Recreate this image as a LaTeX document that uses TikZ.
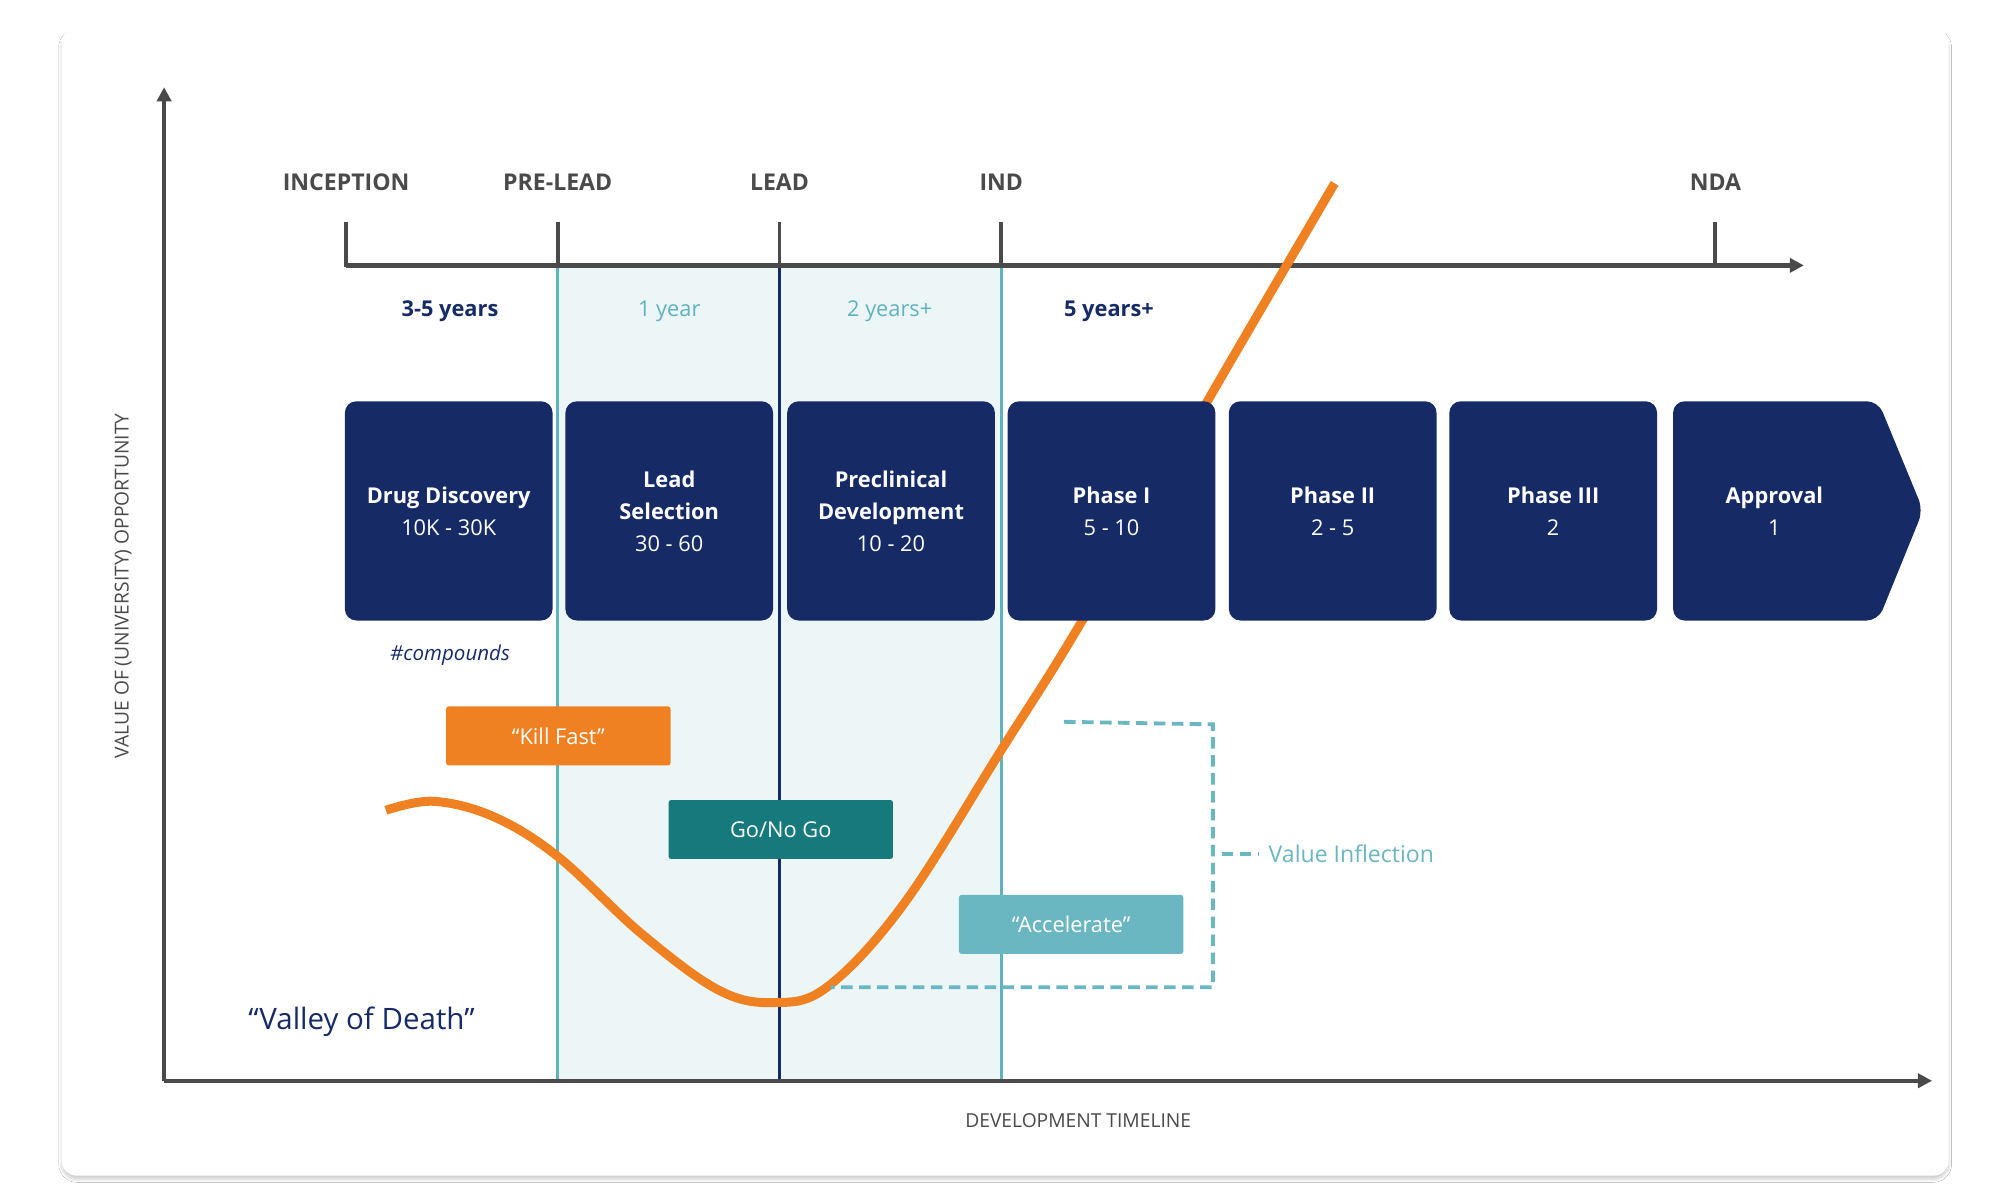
\documentclass[tikz,border=0pt]{standalone}
\usepackage{fontspec}
\setmainfont{Open Sans}
\usetikzlibrary{arrows.meta,shadows.blur}
\definecolor{navy}{HTML}{162A66}
\definecolor{axg}{HTML}{4A4A4A}
\definecolor{tealL}{HTML}{5FB3BF}
\definecolor{band}{HTML}{ECF6F6}
\definecolor{org}{HTML}{F08122}
\definecolor{tealD}{HTML}{167A7C}
\definecolor{acc}{HTML}{6AB7C2}
\begin{document}
\begin{tikzpicture}[x=1pt,y=-1pt,
  box/.style={fill=navy,rounded corners=9pt,text=white,align=center,font=\fontsize{17}{25}\selectfont,inner sep=0},
  tick/.style={draw=axg,line width=3pt},
  axis/.style={draw=axg,line width=3.5pt,-{Triangle[length=11pt,width=11pt]}},
  mile/.style={text=axg,font=\fontsize{18}{20}\selectfont\bfseries},
  tag/.style={minimum width=175pt,minimum height=46pt,rounded corners=2pt,text=white,font=\fontsize{17}{20}\selectfont,inner sep=0}]
\useasboundingbox (0,0) rectangle (1560,936);
\fill[white] (0,0) rectangle (1560,936);
\fill[white,rounded corners=12pt,blur shadow={shadow blur steps=10,shadow xshift=0pt,shadow yshift=-3pt,shadow opacity=18}] (48,22) rectangle (1520,917);
% band
\fill[band] (435,207) rectangle (781,843);
\draw[tealL,line width=2.5pt] (435,207) -- (435,843);
\draw[tealL,line width=2.5pt] (781,207) -- (781,843);
\draw[navy,line width=3pt] (608,207) -- (608,843);
% axes
\coordinate (O) at (128,843);
\coordinate (Ytop) at (128,68);
\coordinate (Xend) at (1507,843);
\draw[axis] (O) -- (Ytop);
\draw[axis] (O) -- (Xend);
\coordinate (T0) at (270,207);
\coordinate (T1) at (1407,207);
\draw[axis] (T0) -- (T1);
\foreach \x/\l in {270/INCEPTION,435/PRE-LEAD,608/LEAD,781/IND,1338/NDA}{
  \draw[tick] (\x,173) -- (\x,208.5);
  \node[mile] (m\x) at (\x,142) {\l};
}
% years
\node[text=navy,font=\fontsize{17}{20}\selectfont\bfseries] (y1) at (351,243) {3-5 years};
\node[text=tealL,font=\fontsize{17}{20}\selectfont] (y2) at (522,243) {1 year};
\node[text=tealL,font=\fontsize{17}{20}\selectfont] (y3) at (694,243) {2 years+};
\node[text=navy,font=\fontsize{17}{20}\selectfont\bfseries] (y4) at (865,243) {5 years+};
% curve
\draw[org,line width=7pt,line cap=butt] plot[smooth,tension=0.6] coordinates {(301,632) (338,625) (385,637) (435,668) (500,728) (560,772) (603,782) (645,770) (705,705) (781,585) (843,486) (940,316) (1041,143)};
% boxes
\node[box,minimum width=162pt,minimum height=171pt] (b1) at (350,398.5) {\textbf{Drug Discovery}\\10K - 30K};
\node[box,minimum width=162pt,minimum height=171pt] (b2) at (522,398.5) {\textbf{Lead}\\\textbf{Selection}\\30 - 60};
\node[box,minimum width=162pt,minimum height=171pt] (b3) at (695,398.5) {\textbf{Preclinical}\\\textbf{Development}\\10 - 20};
\node[box,minimum width=162pt,minimum height=171pt] (b4) at (867,398.5) {\textbf{Phase I}\\5 - 10};
\node[box,minimum width=162pt,minimum height=171pt] (b5) at (1039.5,398.5) {\textbf{Phase II}\\2 - 5};
\node[box,minimum width=162pt,minimum height=171pt] (b6) at (1211.5,398.5) {\textbf{Phase III}\\2};
\fill[navy,rounded corners=9pt] (1305,313) -- (1465,313) -- (1500,398) -- (1465,484) -- (1305,484) -- cycle;
\node[text=white,align=center,font=\fontsize{17}{25}\selectfont] (b7) at (1384,398.5) {\textbf{Approval}\\1};
\node[text=navy,font=\fontsize{16}{18}\selectfont\itshape] (cmp) at (351,511) {\#compounds};
% tags
\node[tag,fill=org] (kf) at (435.5,574) {“Kill Fast”};
\node[tag,fill=tealD] (gng) at (609,647) {Go/No Go};
\node[tag,fill=acc] (ac) at (835.5,721) {“Accelerate”};
% dashed
\coordinate (d1) at (830,563);
\coordinate (d2) at (946,565);
\coordinate (d3) at (946,770);
\coordinate (d4) at (648,770);
\draw[acc,line width=3pt,dash pattern=on 9pt off 5pt] (d1) -- (d2) -- (d3) -- (d4);
\coordinate (v1) at (953,666);
\coordinate (v2) at (982,666);
\draw[acc,line width=3pt,dash pattern=on 9pt off 5pt] (v1) -- (v2);
\node[text=acc,anchor=west,font=\fontsize{18}{20}\selectfont] (vi) at (986,666) {Value Inflection};
\node[text=navy,font=\fontsize{23}{26}\selectfont] (vod) at (282,797) {“Valley of Death”};
\node[text=axg,rotate=90,font=\fontsize{15}{18}\selectfont] (yl) at (96,457) {VALUE OF (UNIVERSITY) OPPORTUNITY};
\node[text=axg,font=\fontsize{15}{18}\selectfont] (xl) at (841,874) {DEVELOPMENT TIMELINE};
\end{tikzpicture}
\end{document}
